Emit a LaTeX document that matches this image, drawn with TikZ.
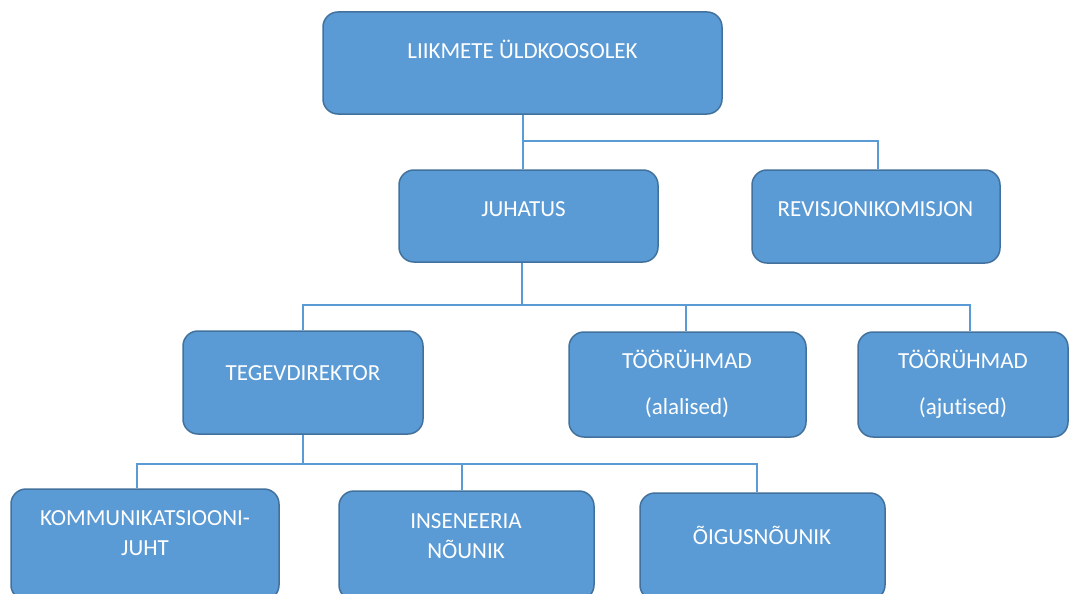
\documentclass[tikz,border=0pt]{standalone}
\usepackage{fontspec}
\setmainfont{Carlito}[Ligatures={NoCommon}]
\definecolor{boxfill}{HTML}{5B9BD5}
\definecolor{boxline}{HTML}{41719C}
\definecolor{connc}{HTML}{5B9BD5}
\tikzset{
  box/.style={draw=boxline, fill=boxfill, line width=1.5pt, rounded corners=15pt, inner sep=0pt},
  txt/.style={text=white, font=\fontsize{23}{27}\selectfont, anchor=base, inner sep=0pt},
  conn/.style={draw=connc, line width=2pt}
}
\begin{document}
\begin{tikzpicture}[x=1pt,y=-1pt]
\clip (0,0) rectangle (1069,594);
\fill[white] (0,0) rectangle (1069,594);
% boxes
\node[box, minimum width=399pt, minimum height=102pt] (A) at (522.5,63) {};
\node[box, minimum width=259pt, minimum height=92pt] (B) at (528.5,216) {};
\node[box, minimum width=248pt, minimum height=93pt] (C) at (876,216.5) {};
\node[box, minimum width=240pt, minimum height=103pt] (D) at (303,382.5) {};
\node[box, minimum width=237pt, minimum height=105pt] (E) at (687.5,384.5) {};
\node[box, minimum width=210pt, minimum height=105pt] (F) at (963,384.5) {};
\node[box, minimum width=268pt, minimum height=111pt] (G) at (145,544.5) {};
\node[box, minimum width=255pt, minimum height=109pt] (H) at (466.5,545.5) {};
\node[box, minimum width=245pt, minimum height=107pt] (I) at (762.5,546.5) {};
% texts
\node[txt] (tA) at (522.5,59) {LIIKMETE ÜLDKOOSOLEK};
\node[txt] (tB) at (523.5,216) {JUHATUS};
\node[txt] (tC) at (875.5,216) {REVISJONIKOMISJON};
\node[txt] (tD) at (303,380) {TEGEVDIREKTOR};
\node[txt] (tE1) at (687,368) {TÖÖRÜHMAD};
\node[txt] (tE2) at (687,414) {(alalised)};
\node[txt] (tF1) at (963,368) {TÖÖRÜHMAD};
\node[txt] (tF2) at (963,414) {(ajutised)};
\node[txt] (tG1) at (145,525) {KOMMUNIKATSIOONI-};
\node[txt] (tG2) at (145,555) {JUHT};
\node[txt] (tH1) at (466,528) {INSENEERIA};
\node[txt] (tH2) at (466,558) {NÕUNIK};
\node[txt] (tI) at (762,544) {ÕIGUSNÕUNIK};
% bus coordinates
\coordinate (bus1) at (0,141);
\coordinate (bus2) at (0,305);
\coordinate (bus3) at (0,464);
% level 1
\draw[conn] (A.south) -- (A.south |- B.north);
\draw[conn] (A.south |- bus1) -- ([xshift=2pt]C.north |- bus1) -- ([xshift=2pt]C.north);
% level 2
\draw[conn] ([xshift=-6.5pt]B.south) -- ([xshift=-6.5pt]B.south |- bus2);
\draw[conn] (D.north) -- (D.north |- bus2) -- ([xshift=7pt]F.north |- bus2) -- ([xshift=7pt]F.north);
\draw[conn] ([xshift=-1.5pt]E.north |- bus2) -- ([xshift=-1.5pt]E.north);
% level 3
\draw[conn] (D.south) -- (D.south |- bus3);
\draw[conn] ([xshift=-8pt]G.north) -- ([xshift=-8pt]G.north |- bus3) -- ([xshift=-5.5pt]I.north |- bus3) -- ([xshift=-5.5pt]I.north);
\draw[conn] ([xshift=-4.5pt]H.north |- bus3) -- ([xshift=-4.5pt]H.north);
\end{tikzpicture}
\end{document}
